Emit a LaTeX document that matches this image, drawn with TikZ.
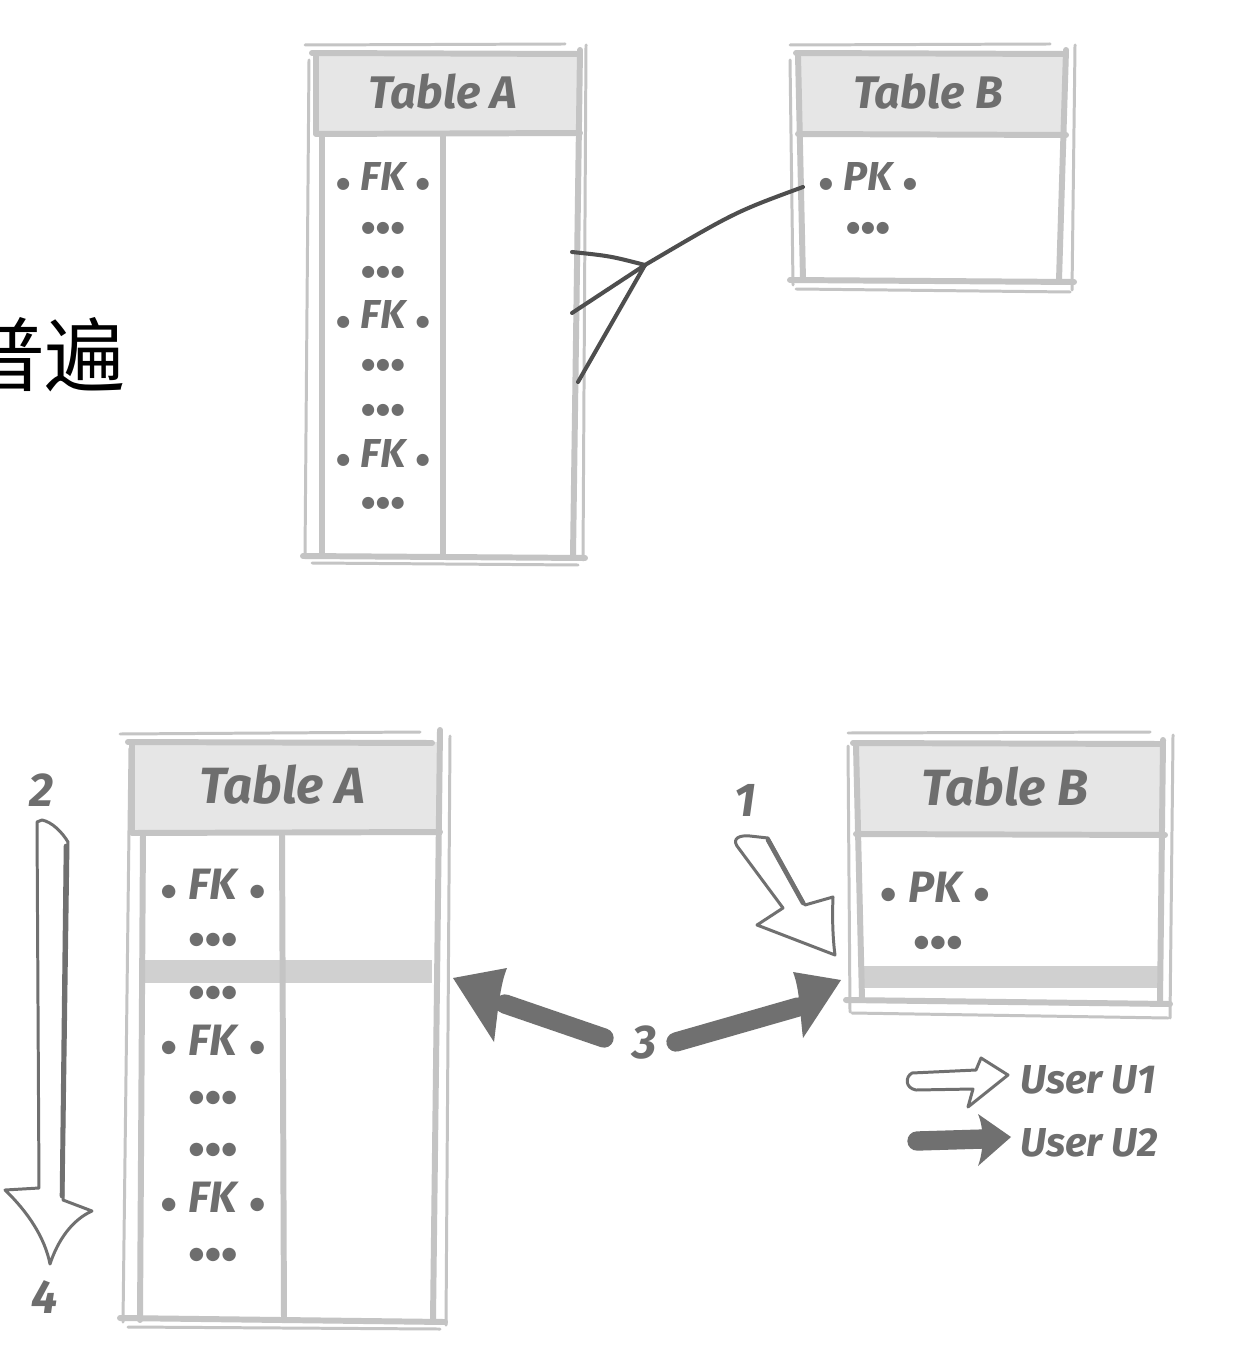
\documentclass[tikz,border=0pt]{standalone}
\usepackage{fontspec}
\newfontfamily\hand{Fira Sans}
\newfontfamily\dotf{DejaVu Sans}
\newfontfamily\cjk{Noto Sans CJK SC}
\definecolor{bordc}{HTML}{C4C4C4}
\definecolor{hdrc}{HTML}{E6E6E6}
\definecolor{bandc}{HTML}{D0D0D0}
\definecolor{txtc}{HTML}{6E6E6E}
\definecolor{connc}{HTML}{4E4E4E}
\definecolor{arrc}{HTML}{707070}
\newcommand\kdot[1]{{\dotf\fontsize{#1}{#1}\selectfont\raisebox{1.5pt}{●}}}
\newcommand\tridots[1]{{\dotf\fontsize{#1}{#1}\selectfont●\kern0.6pt●\kern0.6pt●}}
\begin{document}
\begin{tikzpicture}[x=0.02cm,y=-0.02cm,
  edge/.style={draw=bordc, line width=3.4pt, line cap=round, line join=round},
  edgethin/.style={draw=bordc, line width=1.7pt, line cap=round},
  ttl/.style={text=txtc, font=\hand\bfseries\itshape\fontsize{26}{26}\selectfont, inner sep=0pt},
  ttlb/.style={text=txtc, font=\hand\bfseries\itshape\fontsize{29}{29}\selectfont, inner sep=0pt},
  key/.style={text=txtc, font=\hand\bfseries\itshape\fontsize{23}{23}\selectfont, inner sep=0pt},
  keyb/.style={text=txtc, font=\hand\bfseries\itshape\fontsize{25}{25}\selectfont, inner sep=0pt},
  dots/.style={text=txtc, inner sep=0pt},
  num/.style={text=txtc, font=\hand\bfseries\itshape\fontsize{27}{27}\selectfont, inner sep=0pt},
  legend/.style={text=txtc, font=\hand\bfseries\itshape\fontsize{23}{23}\selectfont, inner sep=0pt, anchor=west},
  conn/.style={draw=connc, line width=2.3pt, line cap=round},
  hollow/.style={draw=arrc, line width=1.7pt, fill=white, line join=round},
  shaft/.style={draw=arrc, line width=11pt, line cap=round}]
\useasboundingbox[fill=white] (0,0) rectangle (1250,1364);

% ---------- Chinese fragment ----------
\node[anchor=base east, inner sep=0pt, font=\cjk\fontsize{46}{46}\selectfont] (cn) at (126,386) {普遍};

% ---------- Top Table A ----------
\fill[hdrc] (314,55) rectangle (580,133);
\draw[edgethin] (305,45) -- (565,44);
\draw[edge] (312,53) -- (578,54);
\draw[edge] (316,55) -- (316,133);
\draw[edge] (316,134) -- (580,133);
\draw[edge] (322,134) -- (322,556);
\draw[edgethin] (309,60) -- (305,556);
\draw[edge] (443,134) -- (443,556);
\draw[edge] (580,50) -- (573,556);
\draw[edgethin] (586,45) -- (583,560);
\draw[edge] (303,556) -- (585,558);
\draw[edgethin] (312,563) -- (578,565);
\node[ttl] (tAtitle) at (443,92) {Table A};
\node[key] (tAk1) at (383,177) {\kdot{9}\hspace{6pt}FK\hspace{6pt}\kdot{9}};
\node[dots] (tAd1) at (383,228) {\tridots{9}};
\node[dots] (tAd2) at (383,272) {\tridots{9}};
\node[key] (tAk2) at (383,315) {\kdot{9}\hspace{6pt}FK\hspace{6pt}\kdot{9}};
\node[dots] (tAd3) at (383,365) {\tridots{9}};
\node[dots] (tAd4) at (383,410) {\tridots{9}};
\node[key] (tAk3) at (383,453) {\kdot{9}\hspace{6pt}FK\hspace{6pt}\kdot{9}};
\node[dots] (tAd5) at (383,503) {\tridots{9}};

% ---------- Top Table B ----------
\fill[hdrc] (797,55) rectangle (1066,134);
\draw[edgethin] (790,45) -- (1050,44);
\draw[edge] (796,53) -- (1064,54);
\draw[edge] (798,55) -- (803,280);
\draw[edgethin] (790,60) -- (793,285);
\draw[edge] (798,134) -- (1066,135);
\draw[edge] (1066,50) -- (1059,280);
\draw[edgethin] (1075,45) -- (1072,290);
\draw[edge] (790,280) -- (1074,282);
\draw[edgethin] (796,289) -- (1070,292);
\node[ttl] (tBtitle) at (928,92) {Table B};
\node[key] (tBk1) at (868,177) {\kdot{9}\hspace{6pt}PK\hspace{6pt}\kdot{9}};
\node[dots] (tBd1) at (868,228) {\tridots{9}};

% ---------- crow's foot connector ----------
\coordinate (pkend) at (803,187);
\coordinate (crow) at (645,265);
\coordinate (fk1) at (572,252);
\coordinate (fk2) at (572,313);
\coordinate (fk3) at (578,382);
\draw[conn] (pkend) .. controls (735,212) .. (crow);
\draw[conn] (crow) .. controls (610,256) .. (fk1);
\draw[conn] (crow) -- (fk2);
\draw[conn] (crow) -- (fk3);

% ---------- Bottom Table A ----------
\fill[hdrc] (130,742) rectangle (442,832);
\fill[bandc] (144,960) rectangle (432,983);
\draw[edgethin] (120,734) -- (420,732);
\draw[edge] (128,742) -- (432,743);
\draw[edge] (132,744) -- (132,832);
\draw[edge] (132,833) -- (440,832);
\draw[edge] (143,834) -- (140,1320);
\draw[edgethin] (130,748) -- (123,1322);
\draw[edge] (282,834) -- (284,1320);
\draw[edge] (440,730) -- (433,1320);
\draw[edgethin] (450,736) -- (446,1325);
\draw[edge] (120,1318) -- (445,1322);
\draw[edgethin] (128,1327) -- (440,1329);
\node[ttlb] (bAtitle) at (282,785) {Table A};
\node[keyb] (bAk1) at (213,884) {\kdot{10}\hspace{7pt}FK\hspace{7pt}\kdot{10}};
\node[dots] (bAd1) at (213,940) {\tridots{10}};
\node[dots] (bAd2) at (213,993) {\tridots{10}};
\node[keyb] (bAk2) at (213,1040) {\kdot{10}\hspace{7pt}FK\hspace{7pt}\kdot{10}};
\node[dots] (bAd3) at (213,1098) {\tridots{10}};
\node[dots] (bAd4) at (213,1150) {\tridots{10}};
\node[keyb] (bAk3) at (213,1197) {\kdot{10}\hspace{7pt}FK\hspace{7pt}\kdot{10}};
\node[dots] (bAd5) at (213,1255) {\tridots{10}};

% ---------- Bottom Table B ----------
\fill[hdrc] (855,745) rectangle (1165,834);
\fill[bandc] (862,966) rectangle (1161,988);
\draw[edgethin] (848,733) -- (1150,732);
\draw[edge] (853,743) -- (1160,744);
\draw[edge] (856,746) -- (862,1000);
\draw[edgethin] (848,746) -- (850,1012);
\draw[edge] (856,834) -- (1165,835);
\draw[edge] (1163,740) -- (1160,1002);
\draw[edgethin] (1173,735) -- (1170,1018);
\draw[edge] (846,1000) -- (1170,1004);
\draw[edgethin] (852,1013) -- (1168,1018);
\node[ttlb] (bBtitle) at (1005,787) {Table B};
\node[keyb] (bBk1) at (935,887) {\kdot{10}\hspace{7pt}PK\hspace{7pt}\kdot{10}};
\node[dots] (bBd1) at (938,943) {\tridots{10}};

% ---------- step arrows ----------
\node[num] (n2) at (42,790) {2};
\node[num] (n4) at (45,1297) {4};
\draw[hollow] (37,822) -- (39,1188) -- (5,1190) .. controls (28,1212) and (45,1238) .. (50,1264)
  .. controls (58,1240) and (72,1220) .. (92,1211) -- (63,1200) -- (68,842) .. controls (62,832) and (52,822) .. (42,820) -- cycle;
\draw[arrc, line width=2.6pt, line cap=round] (66,846) -- (62,1196);

\node[num] (n1) at (745,800) {1};
\draw[hollow] (737,846) .. controls (732,838) and (740,835) .. (750,836) -- (768,838) -- (805,905)
  -- (833,897) .. controls (832,920) and (833,940) .. (835,955) -- (757,925) -- (783,908) -- cycle;
\draw[arrc, line width=2.6pt, line cap=round] (768,840) -- (803,903);

\node[num] (n3) at (645,1043) {3};
\draw[shaft] (604,1038) -- (505,1004);
\fill[arrc] (453,978) -- (507,968) .. controls (500,985) and (498,1010) .. (494,1042) -- cycle;
\draw[shaft] (676,1042) -- (798,1007);
\fill[arrc] (841,980) -- (793,972) .. controls (800,990) and (800,1015) .. (803,1038) -- cycle;

% ---------- legend ----------
\draw[hollow] (912,1073) -- (976,1070) -- (981,1058) -- (1008,1075) -- (968,1107) -- (973,1089)
  -- (916,1090) .. controls (905,1088) and (905,1077) .. (912,1073) -- cycle;
\draw[shaft] (917,1141) -- (984,1139);
\fill[arrc] (978,1114) -- (1011,1137) -- (978,1166) .. controls (984,1150) and (984,1128) .. (978,1114) -- cycle;
\node[legend] (u1) at (1020,1080) {User U1};
\node[legend] (u2) at (1020,1143) {User U2};
\end{tikzpicture}
\end{document}
